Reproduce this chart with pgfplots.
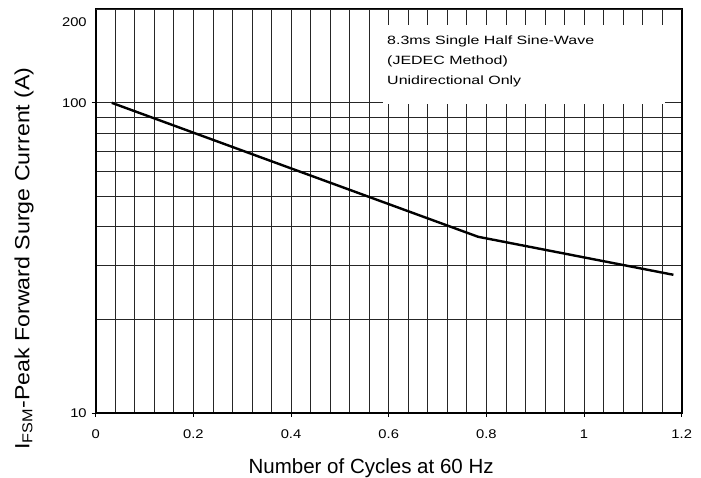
\documentclass[border=0pt]{standalone}
\usepackage{fontspec}
\setmainfont{Liberation Sans}
\usepackage{pgfplots}
\pgfplotsset{compat=1.18}
\newcommand{\tl}[1]{\scalebox{1.17}[1]{#1}}
\newcommand{\bx}[1]{\scalebox{1.33}[1]{#1}}

\begin{document}
\begin{tikzpicture}
\begin{axis}[
  name=a,
  scale only axis,
  width=586pt, height=403.5pt,
  xmin=0, xmax=1.2,
  ymode=log, ymin=10, ymax=200,
  xtick={0,0.2,0.4,0.6,0.8,1,1.2},
  xticklabels={\tl{0},\tl{0.2},\tl{0.4},\tl{0.6},\tl{0.8},\tl{1},\tl{1.2}},
  minor x tick num=4,
  ytick={10,100},
  yticklabels={\tl{10},\tl{100}},
  extra y ticks={200},
  extra y tick labels={\tl{200}},
  extra y tick style={major tick length=0pt, yticklabel style={yshift=-13pt, xshift=-4pt}},
  grid=both,
  major grid style={black!85, line width=0.7pt},
  minor grid style={black!85, line width=0.7pt},
  tick pos=left,
  tick align=outside,
  major tick length=4pt,
  minor tick length=0pt,
  tick style={black, line width=0.8pt},
  axis line style={line width=2pt},
  tick label style={font=\fontsize{12.6}{15}\selectfont},
  xticklabel style={yshift=-9pt},
  yticklabel style={xshift=-1.5pt},
  xlabel={Number of Cycles at 60 Hz},
  ylabel={\scalebox{1.13}[1]{I\textsubscript{FSM}-Peak Forward Surge Current (A)}},
  label style={font=\fontsize{20.5}{24}\selectfont},
  xlabel style={at={(axis description cs:0.47,-0.151)}, anchor=base},
  ylabel style={at={(axis description cs:-0.1224,0.383)}, anchor=center},
]
\fill[white] (axis cs:0.588,99.2) rectangle (axis cs:1.166,178.5);
\node[anchor=base west, inner sep=0, font=\fontsize{12}{14}\selectfont] at (axis cs:0.5966,153.9) {\bx{8.3ms Single Half Sine-Wave}};
\node[anchor=base west, inner sep=0, font=\fontsize{12}{14}\selectfont] at (axis cs:0.5966,132.6) {\bx{(JEDEC Method)}};
\node[anchor=base west, inner sep=0, font=\fontsize{12}{14}\selectfont] at (axis cs:0.5966,114.3) {\bx{Unidirectional Only}};
\addplot[black, line width=2.4pt, line join=round] coordinates {
  (0.033,100) (0.783,37.0) (1.183,27.9)
};
\end{axis}
\pgfresetboundingbox
\path[use as bounding box] ([shift={(-95.7pt,-65pt)}]a.south west) rectangle ([shift={(19.3pt,9.5pt)}]a.north east);
\end{tikzpicture}
\end{document}
